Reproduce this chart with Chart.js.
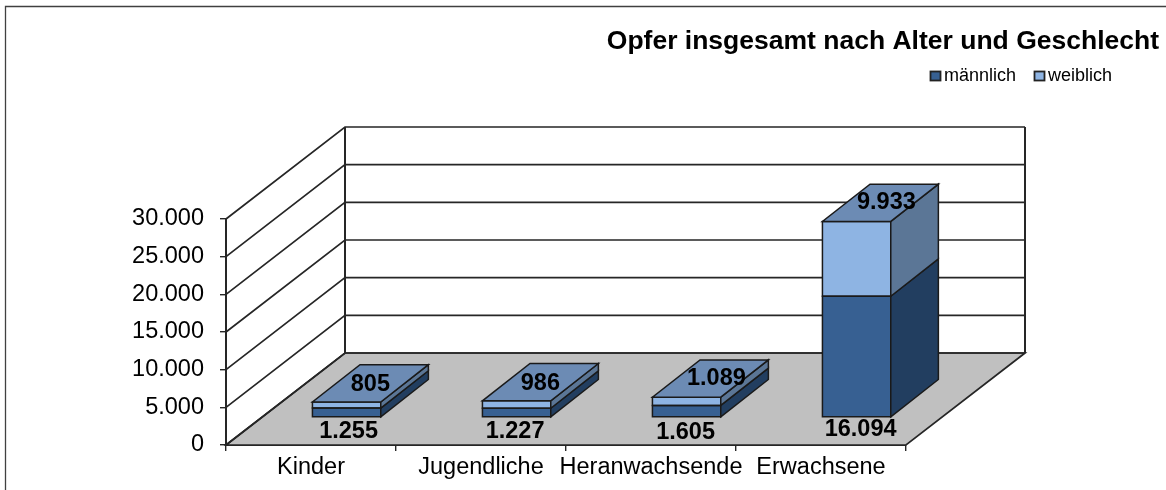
<!DOCTYPE html>
<html><head><meta charset="utf-8">
<style>html,body{margin:0;padding:0;background:#fff;overflow:hidden}#w{position:relative;width:1166px;height:490px}</style>
<script src="https://cdn.jsdelivr.net/npm/chart.js@4/dist/chart.umd.min.js"></script>
</head><body><div id="w"><canvas id="c" width="1166" height="490"></canvas></div>
<script>
const categories = ['Kinder','Jugendliche','Heranwachsende','Erwachsene'];
const maennlich = [1255,1227,1605,16094];
const weiblich = [805,986,1089,9933];
const seriesNames = ['männlich','weiblich'];
const chartTitle = 'Opfer insgesamt nach Alter und Geschlecht';
const fmt = v => String(v).replace(/\B(?=(\d{3})+$)/g,'.');

const DEPTH = {dx:119, dy:-92};
const BAR_FRONT = {dx:35.6, dy:-27.5};
const BAR_DEPTH = {dx:47.6, dy:-37.3};
const EDGE = '#262626';
const FONT = '"Liberation Sans", Arial, sans-serif';
const maleNudge = [{x:2,y:15},{x:-1.5,y:15},{x:-1,y:16},{x:4,y:12.5}];
const femaleNudge = [{x:0,y:1},{x:0,y:1},{x:6,y:0},{x:6,y:0}];

function poly(ctx, pts, fill, stroke, lw){
  ctx.beginPath();
  pts.forEach((p,i)=> i?ctx.lineTo(p[0],p[1]):ctx.moveTo(p[0],p[1]));
  ctx.closePath();
  if(fill){ctx.fillStyle=fill;ctx.fill();}
  if(stroke){ctx.strokeStyle=stroke;ctx.lineWidth=lw||1.3;ctx.stroke();}
}
const scene = {
  id:'scene',
  beforeDatasetsDraw(chart){
    const ctx=chart.ctx,x=chart.scales.x,y=chart.scales.y;
    const L=x.left,R=x.right,B=y.bottom;
    ctx.save();
    poly(ctx,[[L,B],[R,B],[R+DEPTH.dx,B+DEPTH.dy],[L+DEPTH.dx,B+DEPTH.dy]],'#C0C0C0',EDGE,1.7);
    ctx.strokeStyle=EDGE;ctx.lineWidth=1.7;
    y.ticks.forEach(t=>{
      const py=y.getPixelForValue(t.value);
      ctx.beginPath();
      ctx.moveTo(L,py);ctx.lineTo(L+DEPTH.dx,py+DEPTH.dy);ctx.lineTo(R+DEPTH.dx,py+DEPTH.dy);
      ctx.stroke();
    });
    const top=y.getPixelForValue(30000);
    ctx.lineWidth=2;
    ctx.beginPath();
    ctx.moveTo(L+DEPTH.dx,top+DEPTH.dy);ctx.lineTo(L+DEPTH.dx,B+DEPTH.dy);
    ctx.moveTo(R+DEPTH.dx,top+DEPTH.dy);ctx.lineTo(R+DEPTH.dx,B+DEPTH.dy);
    ctx.stroke();
    ctx.restore();
    ctx.save();
    ctx.translate(BAR_FRONT.dx,BAR_FRONT.dy);
  },
  afterDatasetsDraw(chart){
    const ctx=chart.ctx;
    const faces=[{side:'#223E60',top:'#6C8BB4'},{side:'#5B7696',top:'#6C8BB4'}];
    const {dx,dy}=BAR_DEPTH;
    chart.data.datasets.forEach((ds,di)=>{
      chart.getDatasetMeta(di).data.forEach(bar=>{
        const l=bar.x-bar.width/2,r=bar.x+bar.width/2,t=bar.y,b=bar.base;
        poly(ctx,[[l,b],[r,b],[r,t],[l,t]],null,'#1a1a1a',1.5);
        poly(ctx,[[r,b],[r+dx,b+dy],[r+dx,t+dy],[r,t]],faces[di].side,'#1a1a1a',1.5);
        if(di===1) poly(ctx,[[l,t],[r,t],[r+dx,t+dy],[l+dx,t+dy]],faces[di].top,'#1a1a1a',1.5);
      });
    });
    ctx.restore();
    ctx.save();
    ctx.font='bold 23.5px '+FONT;ctx.fillStyle='#000';ctx.textAlign='center';ctx.textBaseline='middle';
    const m0=chart.getDatasetMeta(0).data,m1=chart.getDatasetMeta(1).data;
    m0.forEach((bar,i)=>{
      ctx.fillText(fmt(maennlich[i]),bar.x+BAR_FRONT.dx+maleNudge[i].x,bar.base+BAR_FRONT.dy+maleNudge[i].y);
    });
    m1.forEach((bar,i)=>{
      ctx.fillText(fmt(weiblich[i]),bar.x+BAR_FRONT.dx+dx/2+femaleNudge[i].x,bar.y+BAR_FRONT.dy+dy/2+femaleNudge[i].y);
    });
    ctx.restore();
  },
  afterDraw(chart){
    const ctx=chart.ctx;
    ctx.save();
    ctx.strokeStyle='#404040';ctx.lineWidth=1.3;
    ctx.beginPath();ctx.moveTo(5.5,495);ctx.lineTo(5.5,6.5);ctx.lineTo(1170,6.5);ctx.stroke();
    ctx.fillStyle='#000';ctx.textBaseline='middle';ctx.textAlign='right';
    ctx.font='bold 26.5px '+FONT;
    ctx.fillText(chartTitle,1159,42);
    ctx.textAlign='left';
    ctx.font='18px '+FONT;
    const xs=[930,1034],cols=['#376092','#8EB4E3'];
    xs.forEach((x,i)=>{
      ctx.fillStyle=cols[i];ctx.strokeStyle='#222';ctx.lineWidth=1.8;
      ctx.fillRect(x+.5,71.5,10,9);ctx.strokeRect(x+.5,71.5,10,9);
      ctx.fillStyle='#000';
      ctx.fillText(seriesNames[i],x+14,76.5);
    });
    ctx.restore();
  }
};
new Chart(document.getElementById('c'),{
  type:'bar',
  data:{labels:categories,datasets:[
    {label:seriesNames[0],data:maennlich,backgroundColor:'#376092',borderWidth:0,barPercentage:0.402,categoryPercentage:1},
    {label:seriesNames[1],data:weiblich,backgroundColor:'#8EB4E3',borderWidth:0,barPercentage:0.402,categoryPercentage:1}
  ]},
  options:{
    responsive:false,animation:false,
    layout:{padding:{left:0,right:260,top:219,bottom:0}},
    plugins:{legend:{display:false},title:{display:false},tooltip:{enabled:false}},
    scales:{
      x:{stacked:true,afterFit(s){s.height=45;},
        grid:{drawOnChartArea:false,drawTicks:true,tickLength:6,color:EDGE,lineWidth:1.4},
        border:{display:true,color:EDGE,width:2},
        ticks:{autoSkip:false,maxRotation:0,minRotation:0,padding:2,color:'#000',font:{family:FONT,size:23.5}}},
      y:{stacked:true,min:0,max:30000,afterFit(s){s.width=226;},
        grid:{drawOnChartArea:false,drawTicks:true,tickLength:6,color:EDGE,lineWidth:1.4},
        border:{display:true,color:EDGE,width:2},
        ticks:{stepSize:5000,padding:16,color:'#000',font:{family:FONT,size:23.5},callback:v=>fmt(v)}}
    }
  },
  plugins:[scene]
});
</script></body></html>
